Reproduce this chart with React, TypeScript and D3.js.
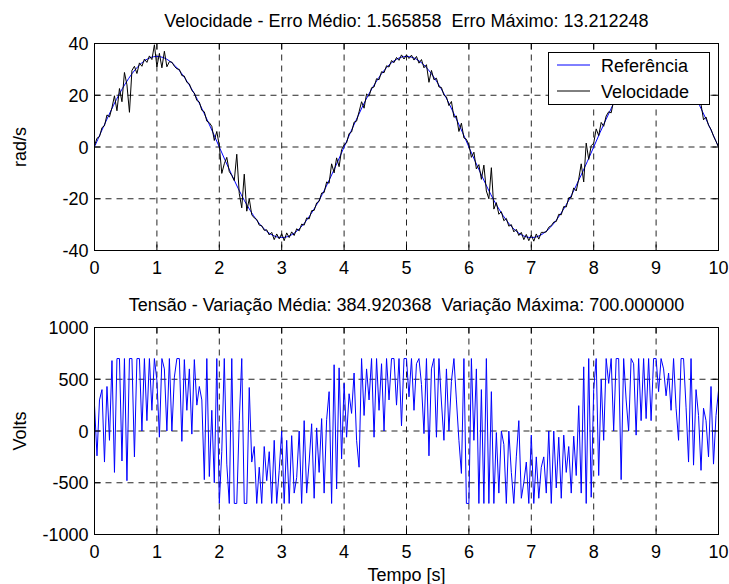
import React from "react";
import * as d3 from "d3";

// ---- data -------------------------------------------------------------
const tempoTicks = [0, 1, 2, 3, 4, 5, 6, 7, 8, 9, 10];
const velTicks = [-40, -20, 0, 20, 40];
const voltTicks = [-1000, -500, 0, 500, 1000];

const REF_STEP = 0.1; // s
const VEL_STEP = 0.04; // s
const VOLT_STEP = 0.04; // s

// reference speed (rad/s), sampled every 0.1 s
const referencia = [
  0, 5.5, 10.8, 15.9, 20.6, 24.7, 28.3, 31.2, 33.3, 34.6,
  35, 34.6, 33.3, 31.2, 28.3, 24.7, 20.6, 15.9, 10.8, 5.5,
  0, -5.5, -10.8, -15.9, -20.6, -24.7, -28.3, -31.2, -33.3, -34.6,
  -35, -34.6, -33.3, -31.2, -28.3, -24.7, -20.6, -15.9, -10.8, -5.5,
  0, 5.5, 10.8, 15.9, 20.6, 24.7, 28.3, 31.2, 33.3, 34.6,
  35, 34.6, 33.3, 31.2, 28.3, 24.7, 20.6, 15.9, 10.8, 5.5,
  0, -5.5, -10.8, -15.9, -20.6, -24.7, -28.3, -31.2, -33.3, -34.6,
  -35, -34.6, -33.3, -31.2, -28.3, -24.7, -20.6, -15.9, -10.8, -5.5,
  0, 5.5, 10.8, 15.9, 20.6, 24.7, 28.3, 31.2, 33.3, 34.6,
  35, 34.6, 33.3, 31.2, 28.3, 24.7, 20.6, 15.9, 10.8, 5.5,
  0,
];

// measured speed (rad/s), sampled every 0.04 s
const velocidade = [
  0.5, 3.4, 4.0, 7.5, 8.2, 12.4, 11.6, 15.2, 19.8, 14.0, 22.6, 17.5, 28.8, 24.0, 13.4, 29.6, 31.2, 28.4, 32.5, 31.2, 34.0, 32.7, 35.2, 33.8, 39.5,
  31.0, 36.2, 30.6, 37.0, 31.0, 33.0, 32.8, 31.2, 30.2, 30.0, 27.6, 27.4, 25.0, 24.4, 21.8, 20.9, 18.0, 17.4, 14.2, 13.6, 10.0, 9.4, 8.0, 2.5, 6.0,
  0.5, -10.2, -6.5, -4.0, -9.5, -11.0, -13.0, -2.8, -18.0, -23.5, -10.5, -24.8, -20.0, -26.2, -27.4, -28.0, -30.2, -30.4, -32.2, -32.0, -34.0, -33.0, -35.8, -33.6, -35.5,
  -33.5, -36.2, -33.2, -35.0, -32.8, -34.2, -31.6, -32.4, -29.8, -30.2, -27.4, -27.8, -24.6, -24.5, -21.6, -21.0, -17.8, -17.6, -13.5, -14.0, -6.5, -10.0, -4.2, -7.6, -1.0,
  0.8, 1.6, 5.2, 5.8, 9.6, 10.0, 13.6, 17.5, 15.0, 20.5, 19.6, 22.9, 23.2, 26.4, 26.0, 29.1, 28.7, 31.4, 30.9, 33.4, 32.6, 34.6, 33.5, 35.6, 34.0,
  35.6, 34.2, 35.5, 33.6, 35.0, 32.4, 33.8, 30.6, 31.8, 25.0, 29.6, 26.0, 26.6, 23.2, 23.0, 20.0, 19.4, 16.0, 17.6, 11.5, 12.0, 6.0, 9.2, 3.5, 3.0,
  0.8, -4.0, -2.0, -8.5, -6.8, -12.5, -7.0, -17.0, -20.0, -8.0, -24.0, -21.5, -26.0, -25.0, -28.5, -27.6, -30.6, -30.0, -32.8, -31.8, -34.2, -33.0, -35.8, -33.8, -36.2,
  -34.0, -36.4, -33.6, -35.6, -33.0, -33.0, -32.8, -31.0, -30.4, -29.0, -28.8, -26.0, -26.2, -23.0, -23.2, -19.6, -19.5, -15.8, -17.0, -12.4, -6.5, -13.5, 1.5, -4.8, 0.5,
  1.5, 7.0, 4.4, 9.5, 8.0, 12.0, 13.6, 13.2, 18.0, 17.4, 21.2, 21.0, 24.6, 24.8, 27.6, 27.4, 30.4, 29.6, 32.4, 31.6, 34.0, 33.0, 35.2, 34.0, 35.6,
  34.5, 35.4, 33.8, 35.0, 33.2, 33.6, 31.6, 32.2, 29.8, 30.2, 27.6, 27.8, 24.8, 24.6, 21.6, 21.4, 18.2, 17.6, 16.5, 10.5, 11.6, 8.4, 6.8, 4.2, 2.2,
  0,
];

// applied voltage (V), sampled every 0.04 s
const tensao = [
  250, -240, 300, 400, -300, 430, -90, 680, -400, 700, 700, -290, 700, -480, 700, 700, -250, 700, 700, 0, 700, 100, 700, 200, 700,
  490, -60, 700, 600, 0, 700, 0, 520, 700, 700, -100, 690, 200, 600, -30, 690, 250, 430, 300, -470, 700, -440, 200, -500, 700,
  -700, -200, 700, -320, -700, 700, -700, -700, 100, 700, -700, -700, 420, -300, -150, -700, -350, -700, -150, -480, -200, -700, -90, -700, -380,
  0, -700, -90, -700, -45, -600, -450, 0, -700, 100, -600, -300, 70, -650, 30, -400, 120, -600, 110, 380, -700, 640, -560, 610, -270,
  460, -60, 360, 170, 560, -90, -350, 700, 150, 600, 300, 700, -60, 700, 200, 650, 0, 700, 300, 700, 700, 250, 700, 50, 700,
  700, 330, 700, 200, 650, 700, 450, -25, 700, -240, 600, 700, -60, 700, 280, -90, 600, 0, 480, 700, 300, -90, -410, 700, -700,
  -700, 700, -90, 600, -700, 400, -700, 700, -700, 380, -700, -15, -600, 0, -130, -700, 0, -400, -700, -250, 100, -650, -500, -300, -700,
  -40, -700, -250, -650, -350, -250, -600, 0, -700, 0, -550, -60, -650, -40, -400, -150, -600, -50, -430, 245, -600, 620, -700, 700, -640,
  400, 700, -430, 500, -90, 700, 460, 700, 0, 700, 700, -470, 700, 300, 0, 700, 650, -40, 700, 100, 700, 120, 700, 100, 700,
  700, 380, 700, 600, 340, 560, 200, 700, 220, -90, 700, 700, 230, -300, 700, -330, 400, 150, -380, 220, 100, -250, 430, -320, 150,
  390,
];

// ---- layout -----------------------------------------------------------
const W = 729;
const H = 584;
const X0 = 94.5;
const X1 = 718.5;
const FONT = "'Liberation Sans', Arial, Helvetica, sans-serif";
const FS = 18;

type Series = { values: number[]; step: number; color: string; curve?: d3.CurveFactory };

function Panel(props: {
  top: number;
  bottom: number;
  domain: [number, number];
  yTicks: number[];
  series: Series[];
  title: string;
  ylabel: string;
  children?: React.ReactNode;
}) {
  const { top, bottom, domain, yTicks, series, title, ylabel } = props;
  const x = d3.scaleLinear().domain([0, 10]).range([X0, X1]);
  const y = d3.scaleLinear().domain(domain).range([bottom, top]);
  const clipId = `clip-${Math.round(top)}`;
  const tick = 6;
  return (
    <g>
      <defs>
        <clipPath id={clipId}>
          <rect x={X0} y={top} width={X1 - X0} height={bottom - top} />
        </clipPath>
      </defs>
      <rect x={X0} y={top} width={X1 - X0} height={bottom - top} fill="#fff" />
      {/* grid */}
      <g stroke="#000" strokeWidth={1} strokeDasharray="6 5" opacity={0.85}>
        {tempoTicks.slice(1, -1).map((t) => (
          <line key={"gx" + t} x1={x(t)} x2={x(t)} y1={top} y2={bottom} />
        ))}
        {yTicks.slice(1, -1).map((v) => (
          <line key={"gy" + v} x1={X0} x2={X1} y1={y(v)} y2={y(v)} />
        ))}
      </g>
      {/* data */}
      <g clipPath={`url(#${clipId})`} fill="none">
        {series.map((s, i) => {
          const line = d3
            .line<number>()
            .x((_, k) => x(k * s.step))
            .y((v) => y(v))
            .curve(s.curve ?? d3.curveLinear);
          return <path key={i} d={line(s.values) ?? ""} stroke={s.color} strokeWidth={1} />;
        })}
      </g>
      {/* ticks on all four sides, pointing inward */}
      <g stroke="#000" strokeWidth={1}>
        {tempoTicks.map((t) => (
          <g key={"tx" + t}>
            <line x1={x(t)} x2={x(t)} y1={bottom} y2={bottom - tick} />
            <line x1={x(t)} x2={x(t)} y1={top} y2={top + tick} />
          </g>
        ))}
        {yTicks.map((v) => (
          <g key={"ty" + v}>
            <line x1={X0} x2={X0 + tick} y1={y(v)} y2={y(v)} />
            <line x1={X1} x2={X1 - tick} y1={y(v)} y2={y(v)} />
          </g>
        ))}
      </g>
      <rect x={X0} y={top} width={X1 - X0} height={bottom - top} fill="none" stroke="#000" strokeWidth={1} />
      {/* labels */}
      <g fontFamily={FONT} fontSize={FS} fill="#000">
        {tempoTicks.map((t) => (
          <text key={"lx" + t} x={x(t)} y={bottom + 23} textAnchor="middle">
            {t}
          </text>
        ))}
        {yTicks.map((v) => (
          <text key={"ly" + v} x={X0 - 6} y={y(v) + 6.5} textAnchor="end">
            {v}
          </text>
        ))}
        <text x={(X0 + X1) / 2} y={top - 17} textAnchor="middle" style={{ whiteSpace: "pre" }}>
          {title}
        </text>
        <text
          transform={`translate(26, ${(top + bottom) / 2}) rotate(-90)`}
          textAnchor="middle"
        >
          {ylabel}
        </text>
      </g>
      {props.children}
    </g>
  );
}

export default function App() {
  const legendItems = [
    { label: "Referência", color: "#0000ff" },
    { label: "Velocidade", color: "#000000" },
  ];
  return (
    <svg
      width={W}
      height={H}
      viewBox={`0 0 ${W} ${H}`}
      style={{ position: "absolute", left: 0, top: 0, background: "#fff" }}
    >
      <rect width={W} height={H} fill="#fff" />
      <Panel
        top={43.5}
        bottom={250.5}
        domain={[-40, 40]}
        yTicks={velTicks}
        title="Velocidade - Erro Médio: 1.565858  Erro Máximo: 13.212248"
        ylabel="rad/s"
        series={[
          { values: referencia, step: REF_STEP, color: "#0000ff", curve: d3.curveCatmullRom },
          { values: velocidade, step: VEL_STEP, color: "#000000" },
        ]}
      >
        <g>
          <rect x={548.5} y={52.5} width={161} height={52} fill="#fff" stroke="#000" strokeWidth={1} />
          {legendItems.map((it, i) => (
            <g key={it.label}>
              <line x1={557} x2={590} y1={65 + i * 26} y2={65 + i * 26} stroke={it.color} strokeWidth={1} />
              <text x={601} y={65 + i * 26 + 6.5} fontFamily={FONT} fontSize={FS} fill="#000">
                {it.label}
              </text>
            </g>
          ))}
        </g>
      </Panel>
      <Panel
        top={327.5}
        bottom={534.5}
        domain={[-1000, 1000]}
        yTicks={voltTicks}
        title="Tensão - Variação Média: 384.920368  Variação Máxima: 700.000000"
        ylabel="Volts"
        series={[{ values: tensao, step: VOLT_STEP, color: "#0000ff" }]}
      />
      <text x={(X0 + X1) / 2} y={581} textAnchor="middle" fontFamily={FONT} fontSize={FS}>
        Tempo [s]
      </text>
    </svg>
  );
}
